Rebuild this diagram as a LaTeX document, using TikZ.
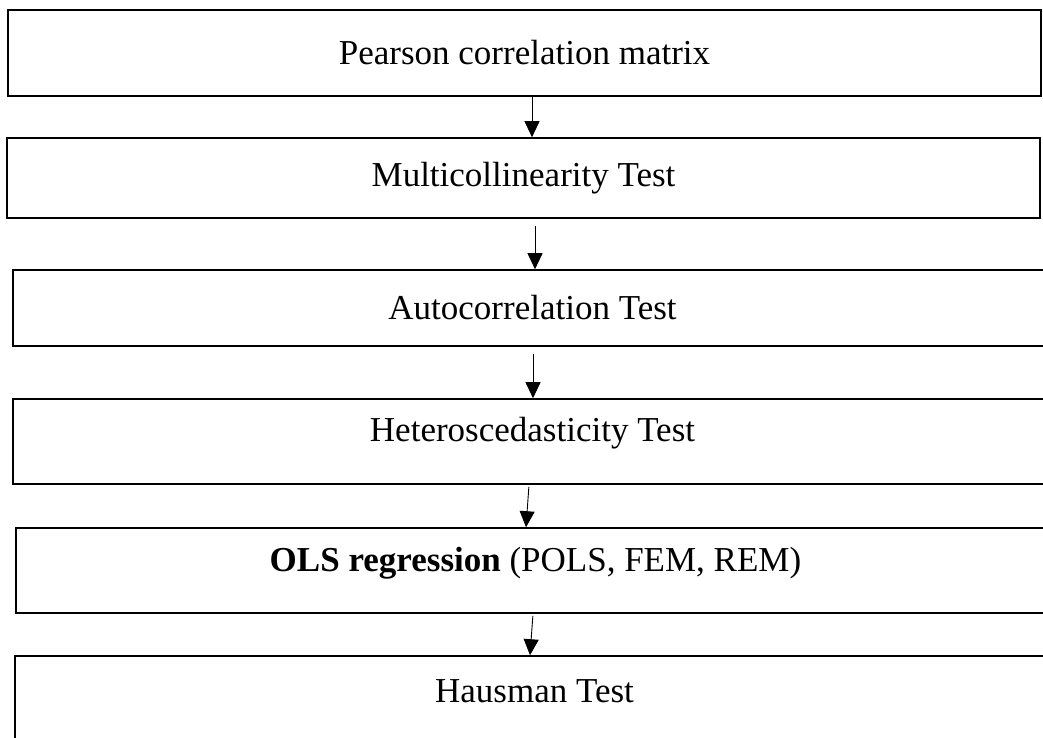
\documentclass[tikz,border=0pt]{standalone}
\usepackage{fontspec}
\setmainfont{Liberation Serif}
\usepackage{tikz}
\usetikzlibrary{arrows.meta, calc}

\begin{document}
\begin{tikzpicture}[x=1pt, y=1pt,
    passo/.style = {draw, line width=1.6pt, rectangle, inner sep=0pt,
        font=\fontsize{35}{42}\selectfont},
    freccia/.style = {-{Triangle[width=15pt, length=16pt]}, line width=0.9pt}]
    % Parametri
    \pgfmathsetmacro{\larg}{1039}
    \useasboundingbox (0,0) rectangle (1043,-738);
    \clip (0,0) rectangle (1043,-738);

    % Riquadri
    \node[passo, minimum width=1033pt, minimum height=86pt] (pearson) at (524.5,-53)
        {Pearson correlation matrix};
    \node[passo, minimum width=1033pt, minimum height=80pt] (multi) at (523.5,-178)
        {Multicollinearity Test};
    \node[passo, minimum width=\larg pt, minimum height=76pt] (auto) at (532.5,-308)
        {Autocorrelation Test};
    \node[passo, minimum width=\larg pt, minimum height=85pt, text depth=25pt] (hetero) at (532.5,-441.5)
        {Heteroscedasticity Test};
    \node[passo, minimum width=\larg pt, minimum height=85pt, text depth=23pt] (ols) at (535.5,-570.5)
        {\textbf{OLS regression} (POLS, FEM, REM)};
    \node[passo, minimum width=\larg pt, minimum height=89pt, text depth=18pt] (hausman) at (534.5,-700.5)
        {Hausman Test};

    % Frecce
    \draw[freccia] ([xshift=7.5pt]pearson.south) -- ([xshift=8.5pt]multi.north);
    \draw[freccia, shorten <=7pt] ([xshift=11.5pt]multi.south) -- ([xshift=2.5pt]auto.north);
    \draw[freccia, shorten <=7pt] ([xshift=0.5pt]auto.south) -- ([xshift=0.5pt]hetero.north);
    \draw[freccia, shorten <=2pt] ([xshift=-3.5pt]hetero.south) -- ([xshift=-9.5pt]ols.north);
    \draw[freccia, shorten <=2pt] ([xshift=-2.5pt]ols.south) -- ([xshift=-4.5pt]hausman.north);
\end{tikzpicture}
\end{document}
